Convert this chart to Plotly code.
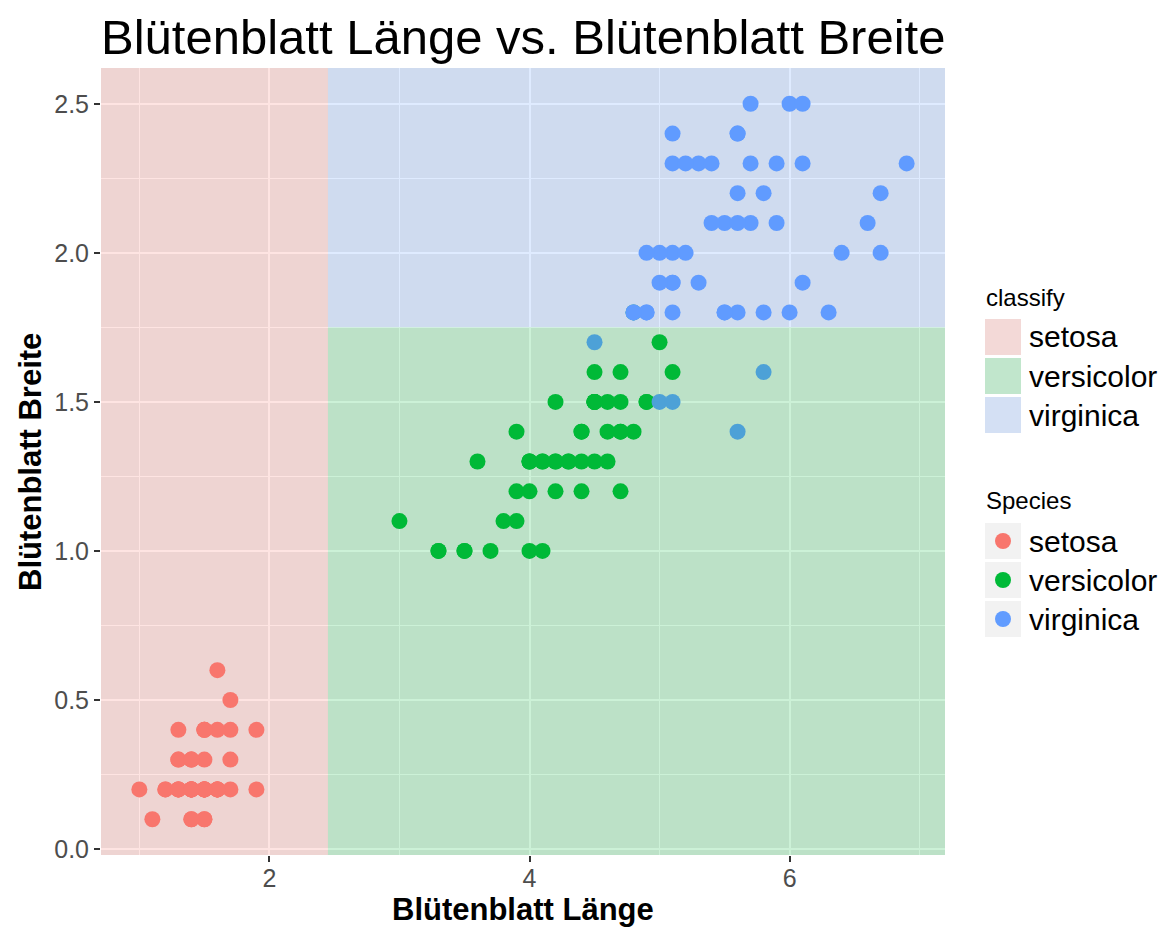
import plotly.graph_objects as go

species_names = ["setosa", "versicolor", "virginica"]
species_colors = ["#F8766D", "#00BA38", "#619CFF"]

setosa_length = [1.4, 1.4, 1.3, 1.5, 1.4, 1.7, 1.4, 1.5, 1.4, 1.5, 1.5, 1.6, 1.4, 1.1, 1.2, 1.5, 1.3, 1.4, 1.7, 1.5,
                 1.7, 1.5, 1.0, 1.7, 1.9, 1.6, 1.6, 1.5, 1.4, 1.6, 1.6, 1.5, 1.5, 1.4, 1.5, 1.2, 1.3, 1.4, 1.3, 1.5,
                 1.3, 1.3, 1.3, 1.6, 1.9, 1.4, 1.6, 1.4, 1.5, 1.4]
setosa_width = [0.2, 0.2, 0.2, 0.2, 0.2, 0.4, 0.3, 0.2, 0.2, 0.1, 0.2, 0.2, 0.1, 0.1, 0.2, 0.4, 0.4, 0.3, 0.3, 0.3,
                0.2, 0.4, 0.2, 0.5, 0.2, 0.2, 0.4, 0.2, 0.2, 0.2, 0.2, 0.4, 0.1, 0.2, 0.2, 0.2, 0.2, 0.1, 0.2, 0.2,
                0.3, 0.3, 0.2, 0.6, 0.4, 0.3, 0.2, 0.2, 0.2, 0.2]
versicolor_length = [4.7, 4.5, 4.9, 4.0, 4.6, 4.5, 4.7, 3.3, 4.6, 3.9, 3.5, 4.2, 4.0, 4.7, 3.6, 4.4, 4.5, 4.1, 4.5, 3.9,
                     4.8, 4.0, 4.9, 4.7, 4.3, 4.4, 4.8, 5.0, 4.5, 3.5, 3.8, 3.7, 3.9, 5.1, 4.5, 4.5, 4.7, 4.4, 4.1, 4.0,
                     4.4, 4.6, 4.0, 3.3, 4.2, 4.2, 4.2, 4.3, 3.0, 4.1]
versicolor_width = [1.4, 1.5, 1.5, 1.3, 1.5, 1.3, 1.6, 1.0, 1.3, 1.4, 1.0, 1.5, 1.0, 1.4, 1.3, 1.4, 1.5, 1.0, 1.5, 1.1,
                    1.8, 1.3, 1.5, 1.2, 1.3, 1.4, 1.4, 1.7, 1.5, 1.0, 1.1, 1.0, 1.2, 1.6, 1.5, 1.6, 1.5, 1.3, 1.3, 1.3,
                    1.2, 1.4, 1.2, 1.0, 1.3, 1.2, 1.3, 1.3, 1.1, 1.3]
virginica_length = [6.0, 5.1, 5.9, 5.6, 5.8, 6.6, 4.5, 6.3, 5.8, 6.1, 5.1, 5.3, 5.5, 5.0, 5.1, 5.3, 5.5, 6.7, 6.9, 5.0,
                    5.7, 4.9, 6.7, 4.9, 5.7, 6.0, 4.8, 4.9, 5.6, 5.8, 6.1, 6.4, 5.6, 5.1, 5.6, 6.1, 5.6, 5.5, 4.8, 5.4,
                    5.6, 5.1, 5.1, 5.9, 5.7, 5.2, 5.0, 5.2, 5.4, 5.1]
virginica_width = [2.5, 1.9, 2.1, 1.8, 2.2, 2.1, 1.7, 1.8, 1.8, 2.5, 2.0, 1.9, 2.1, 2.0, 2.4, 2.3, 1.8, 2.2, 2.3, 1.5,
                   2.3, 2.0, 2.0, 1.8, 2.1, 1.8, 1.8, 1.8, 2.1, 1.6, 1.9, 2.0, 2.2, 1.5, 1.4, 2.3, 2.4, 1.8, 1.8, 2.1,
                   2.4, 2.3, 1.9, 2.3, 2.5, 2.3, 1.9, 2.0, 2.3, 1.8]

# decision boundaries of the classifier
split_length = 2.45
split_width = 1.75

x_ticks = [2, 4, 6]
y_ticks = [0.0, 0.5, 1.0, 1.5, 2.0, 2.5]
y_tick_labels = ["0.0", "0.5", "1.0", "1.5", "2.0", "2.5"]

title_text = "Blütenblatt Länge vs. Blütenblatt Breite"
x_title = "Blütenblatt Länge"
y_title = "Blütenblatt Breite"

# ---- layout geometry (page coordinates; the page body adds an 8px offset) ----
OFF = 8
W, H = 1168 - OFF, 930 - OFF
L, R, T, B = 101, 945, 68, 855
FONT = "Liberation Sans, Arial, sans-serif"


def px(x):
    return (x - L) / (R - L)


def py(y):
    return (B - y) / (B - T)


all_len = setosa_length + versicolor_length + virginica_length
all_wid = setosa_width + versicolor_width + virginica_width
xpad = (max(all_len) - min(all_len)) * 0.05
ypad = (max(all_wid) - min(all_wid)) * 0.05
xr = [min(all_len) - xpad, max(all_len) + xpad]
yr = [min(all_wid) - ypad, max(all_wid) + ypad]

fig = go.Figure()
series = [(setosa_length, setosa_width), (versicolor_length, versicolor_width), (virginica_length, virginica_width)]
for (xs, ys), name, col in zip(series, species_names, species_colors):
    fig.add_trace(go.Scatter(x=xs, y=ys, mode="markers", name=name, showlegend=False,
                             marker=dict(color=col, size=16, line=dict(width=0))))

shapes = []
# classification regions drawn over the points (alpha 0.2)
shapes.append(dict(type="rect", xref="x", yref="y domain", x0=xr[0], x1=split_length, y0=0, y1=1,
                   fillcolor=species_colors[0], opacity=0.2, line=dict(width=0), layer="above"))
shapes.append(dict(type="rect", xref="x", yref="y", x0=split_length, x1=xr[1], y0=yr[0], y1=split_width,
                   fillcolor=species_colors[1], opacity=0.2, line=dict(width=0), layer="above"))
shapes.append(dict(type="rect", xref="x", yref="y", x0=split_length, x1=xr[1], y0=split_width, y1=yr[1],
                   fillcolor=species_colors[2], opacity=0.2, line=dict(width=0), layer="above"))

annotations = []
# legend: classify
annotations.append(dict(text="classify", x=px(984), y=py(297), xref="paper", yref="paper", xanchor="left",
                        yanchor="middle", showarrow=False, font=dict(family=FONT, size=24, color="black")))
key_tops = [319, 358, 397]
for top, name, col in zip(key_tops, species_names, species_colors):
    shapes.append(dict(type="rect", xref="paper", yref="paper", x0=px(985), x1=px(1021), y0=py(top + 36),
                       y1=py(top), fillcolor="#F2F2F2", line=dict(width=0), layer="above"))
    shapes.append(dict(type="rect", xref="paper", yref="paper", x0=px(985), x1=px(1021), y0=py(top + 36),
                       y1=py(top), fillcolor=col, opacity=0.2, line=dict(width=0), layer="above"))
    annotations.append(dict(text=name, x=px(1027), y=py(top + 18), xref="paper", yref="paper", xanchor="left",
                            yanchor="middle", showarrow=False, font=dict(family=FONT, size=30, color="black")))

# legend: Species
annotations.append(dict(text="Species", x=px(984), y=py(500), xref="paper", yref="paper", xanchor="left",
                        yanchor="middle", showarrow=False, font=dict(family=FONT, size=24, color="black")))
key_tops2 = [523, 562, 601]
for top, name, col in zip(key_tops2, species_names, species_colors):
    shapes.append(dict(type="rect", xref="paper", yref="paper", x0=px(985), x1=px(1021), y0=py(top + 36),
                       y1=py(top), fillcolor="#F2F2F2", line=dict(width=0), layer="above"))
    cx, cy = 1003, top + 18
    shapes.append(dict(type="circle", xref="paper", yref="paper", x0=px(cx - 8), x1=px(cx + 8), y0=py(cy + 8),
                       y1=py(cy - 8), fillcolor=col, line=dict(width=0), layer="above"))
    annotations.append(dict(text=name, x=px(1027), y=py(top + 18), xref="paper", yref="paper", xanchor="left",
                            yanchor="middle", showarrow=False, font=dict(family=FONT, size=30, color="black")))

# titles
annotations.append(dict(text=title_text, x=px(99), y=py(37), xref="paper", yref="paper", xanchor="left",
                        yanchor="middle", showarrow=False,
                        font=dict(family=FONT, size=49, color="black")))
annotations.append(dict(text="<b>" + x_title + "</b>", x=px(523), y=py(910), xref="paper", yref="paper",
                        xanchor="center", yanchor="middle", showarrow=False,
                        font=dict(family=FONT, size=31, color="black")))
annotations.append(dict(text="<b>" + y_title + "</b>", x=px(30), y=py(462), xref="paper", yref="paper",
                        xanchor="center", yanchor="middle", showarrow=False, textangle=-90,
                        font=dict(family=FONT, size=31, color="black")))

fig.update_layout(
    width=W, height=H,
    margin=dict(l=L - OFF, r=1168 - R, t=T - OFF, b=930 - B, pad=0),
    paper_bgcolor="white",
    plot_bgcolor="#EBEBEB",
    shapes=shapes,
    annotations=annotations,
    showlegend=False,
    font=dict(family=FONT),
)
fig.update_xaxes(range=xr, tickmode="array", tickvals=x_ticks, ticktext=[str(v) for v in x_ticks],
                 showgrid=True, gridcolor="white", gridwidth=2, zeroline=False, showline=False,
                 ticks="outside", ticklen=6, tickwidth=1.5, tickcolor="#333333", ticklabelstandoff=-5,
                 tickfont=dict(family=FONT, size=25, color="#4D4D4D"),
                 minor=dict(tickmode="array", tickvals=[1, 3, 5, 7], showgrid=True, gridcolor="white",
                            gridwidth=1, ticks=""))
fig.update_yaxes(range=yr, tickmode="array", tickvals=y_ticks, ticktext=y_tick_labels,
                 showgrid=True, gridcolor="white", gridwidth=2, zeroline=False, showline=False,
                 ticks="outside", ticklen=6, tickwidth=1.5, tickcolor="#333333",
                 tickfont=dict(family=FONT, size=25, color="#4D4D4D"),
                 minor=dict(tickmode="array", tickvals=[0.25, 0.75, 1.25, 1.75, 2.25], showgrid=True,
                            gridcolor="white", gridwidth=1, ticks=""))

fig.write_html("out.html")
